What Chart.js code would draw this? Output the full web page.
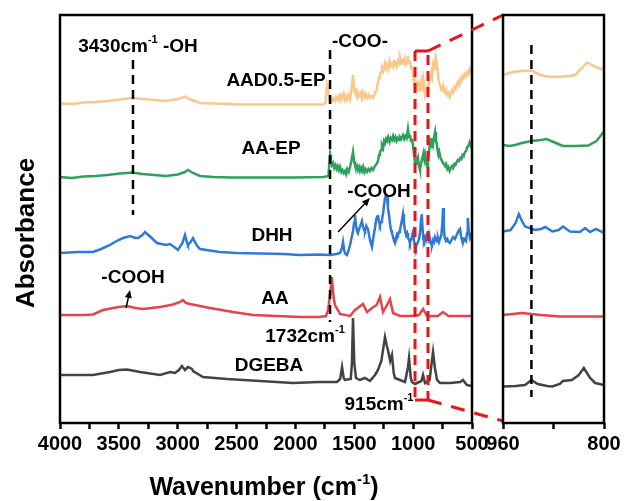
<!DOCTYPE html>
<html>
<head>
<meta charset="utf-8">
<script src="https://cdn.jsdelivr.net/npm/chart.js@4.4.0/dist/chart.umd.min.js"></script>
<style>
html, body { margin: 0; padding: 0; background: #fff; }
#wrap { position: relative; width: 631px; height: 501px; }
canvas { position: absolute; left: 0; top: 0; }
</style>
</head>
<body>
<div id="wrap">
  <canvas id="main" width="631" height="501"></canvas>
  <canvas id="zoom" width="631" height="501"></canvas>
</div>
<script>
// spectra, [wavenumber, absorbance (offset, arbitrary units)]
var aadMain = [[4000,319.5],[3900,319],[3800,320.5],[3700,321],[3600,322],[3490,323.5],[3388,325],[3300,324],[3200,323],[3100,322],[3000,324],[2938,326.5],[2900,324],[2811,320],[2700,319.5],[2556,319],[2500,318.5],[2000,318.5],[1766,318.5],[1745,320],[1732,338],[1723,334],[1706,321],[1698,324],[1690,322],[1680,325],[1664,322],[1655,326],[1640,323],[1630,327],[1621,323],[1610,328],[1600,325],[1590,329],[1579,323],[1570,327],[1560,324],[1548,328],[1536,324],[1525,332],[1511,348],[1502,335],[1494,330],[1486,328],[1478,331],[1470,326],[1460,329],[1452,327],[1443,330],[1435,325],[1425,330],[1415,326],[1405,329],[1392,325],[1380,328],[1370,325],[1355,327],[1341,325],[1325,330],[1310,333],[1299,341],[1290,345],[1282,349],[1272,351],[1265,355],[1255,352],[1247,357],[1239,360],[1230,355],[1222,358],[1212,354],[1200,362],[1190,357],[1180,359],[1168,356],[1160,362],[1150,361],[1140,357],[1130,362],[1120,359],[1112,366],[1100,361],[1086,363],[1078,358],[1069,364],[1060,359],[1052,362],[1044,367],[1035,360],[1027,362],[1018,355],[1010,357],[1001,348],[992,340],[984,333],[976,338],[970,335],[962,340],[955,336],[948,338],[942,331],[936,336],[930,342],[922,338],[916,344],[908,336],[899,328],[890,333],[882,336],[875,331],[868,338],[860,342],[852,346],[845,351],[838,347],[830,358],[822,354],[815,362],[808,366],[800,360],[792,352],[785,344],[778,340],[770,337],[762,333],[755,338],[746,332],[738,335],[729,331],[720,333],[710,328],[700,330],[690,326],[680,329],[670,333],[660,331],[650,336],[640,334],[630,339],[620,341],[610,338],[600,344],[590,342],[580,347],[570,345],[560,349],[550,347],[540,351],[530,349],[520,354],[510,351],[500,348]];
var aaepMain = [[4000,246],[3900,245],[3800,246.5],[3700,247],[3600,248],[3490,249.5],[3388,250.5],[3300,249],[3200,248],[3100,247],[3000,248.5],[2940,251],[2913,253],[2870,250],[2811,247],[2700,246],[2556,245.5],[2000,245.5],[1760,246],[1720,247],[1706,268],[1698,262],[1690,258],[1681,260],[1670,255],[1660,258],[1650,254],[1640,257],[1630,253],[1621,256],[1610,251],[1600,253],[1590,250],[1579,252],[1570,249],[1560,254],[1548,251],[1536,256],[1525,262],[1511,271],[1502,262],[1494,258],[1486,255],[1478,257],[1470,253],[1460,256],[1452,252],[1443,255],[1435,252],[1425,256],[1415,251],[1405,254],[1392,251],[1380,254],[1367,252],[1355,255],[1341,253],[1325,257],[1310,259],[1299,262],[1290,268],[1282,271],[1272,273],[1265,278],[1255,275],[1247,282],[1239,280],[1230,284],[1222,282],[1212,286],[1200,281],[1190,285],[1180,283],[1170,287],[1160,283],[1150,286],[1140,282],[1130,285],[1120,283],[1112,286],[1100,284],[1086,288],[1075,284],[1065,287],[1055,285],[1044,294],[1035,286],[1027,288],[1018,282],[1010,284],[1001,278],[992,268],[984,260],[976,264],[968,261],[959,265],[950,257],[942,253],[935,258],[928,262],[920,266],[912,270],[905,264],[899,268],[890,260],[882,257],[874,262],[866,270],[857,281],[848,276],[840,285],[830,279],[822,286],[814,291],[806,282],[800,280],[792,272],[785,268],[778,271],[770,266],[760,263],[750,261],[740,259],[729,257],[720,259],[710,254],[700,256],[690,252],[680,255],[670,257],[660,255],[650,259],[640,258],[630,261],[620,263],[610,262],[600,265],[590,264],[580,268],[570,267],[560,271],[550,272],[540,276],[530,277],[520,281],[510,278],[500,274]];
var dhhMain = [[4000,170],[3850,171],[3720,171],[3650,174],[3575,178],[3520,182],[3465,185],[3405,187],[3360,185],[3337,185],[3300,188],[3278,191],[3230,186],[3176,180],[3100,178],[3066,179],[3030,176],[2998,173],[2960,180],[2938,188],[2920,180],[2913,178],[2890,181],[2870,185],[2840,178],[2811,174],[2700,172],[2641,171],[2500,170],[2301,169.5],[2100,169],[1961,168],[1800,168.5],[1706,168],[1650,169],[1621,170],[1605,175],[1596,181],[1585,172],[1575,169],[1562,168],[1550,172],[1536,178],[1525,184],[1511,192],[1502,200],[1494,208],[1486,198],[1477,192],[1469,190],[1460,194],[1452,196],[1443,199],[1435,202],[1425,196],[1417,193],[1409,192],[1398,197],[1390,195],[1384,194],[1370,185],[1360,180],[1350,176],[1340,184],[1332,190],[1324,195],[1315,203],[1307,206],[1299,208],[1290,201],[1282,198],[1273,201],[1265,203],[1255,210],[1247,218],[1239,225],[1230,228],[1222,227],[1214,215],[1205,208],[1195,198],[1188,193],[1180,190],[1170,186],[1162,182],[1154,180],[1145,185],[1137,189],[1129,188],[1120,191],[1112,193],[1100,200],[1092,205],[1086,209],[1078,200],[1069,192],[1060,188],[1052,190],[1044,185],[1035,183],[1027,180],[1018,184],[1010,187],[1001,191],[992,182],[984,178],[976,175],[968,179],[959,181],[950,184],[940,192],[932,205],[927,209],[920,195],[914,184],[908,182],[898,186],[890,183],[882,187],[874,185],[865,181],[857,184],[848,179],[840,178],[830,183],[822,181],[814,186],[806,184],[797,182],[789,185],[780,181],[772,181],[760,188],[752,200],[746,215],[740,198],[733,186],[721,182],[710,184],[700,181],[687,180],[675,183],[660,186],[645,184],[630,188],[615,192],[602,194],[592,186],[585,183],[577,180],[565,184],[551,182],[542,190],[538,198],[534,205],[528,192],[517,185],[508,188],[500,190]];
var aaMain = [[4000,108],[3800,108],[3720,108.5],[3635,113],[3500,116],[3431,117],[3360,115],[3295,114],[3150,116],[3040,118.5],[2980,121],[2955,123],[2930,120],[2896,119],[2726,115],[2530,111],[2360,108],[2157,107],[1961,106],[1800,106],[1740,107],[1723,113],[1706,128],[1691,146],[1675,125],[1664,118],[1621,109],[1536,107],[1494,113],[1460,116],[1426,119],[1392,111],[1350,115],[1310,118],[1282,126],[1256,111],[1222,118],[1197,124],[1171,110],[1112,107],[1027,107],[950,108],[916,114],[882,107],[790,107],[746,111],[700,107],[600,107],[500,107]];
var dgebaMain = [[4000,48],[3720,48],[3575,51],[3500,53],[3431,53.5],[3320,51],[3150,48],[3066,51],[3023,50],[2990,53],[2964,57],[2938,53],[2913,56],[2879,54],[2870,52],[2785,46],[2581,44],[2301,42],[2021,40],[1800,41],[1647,41],[1620,44],[1604,56],[1590,45],[1579,43],[1530,44],[1520,60],[1511,105],[1500,60],[1486,45],[1452,43],[1409,45],[1367,42],[1324,48],[1299,53],[1270,62],[1239,86],[1225,78],[1214,73],[1195,62],[1180,68],[1165,50],[1154,45],[1112,43],[1069,41],[1045,55],[1035,65],[1020,45],[1010,41],[984,39],[930,42],[916,48],[899,40],[860,43],[845,58],[831,71],[815,55],[797,43],[772,40],[687,40],[600,41],[577,43],[543,38],[500,37]];

// zoomed 960-800 region
var aadZoom = [[960,348],[950,350],[941,351.5],[930,352],[915,352.5],[900,348],[889,346.5],[880,346],[867,346.5],[855,347],[846,348],[835,355],[827,360.5],[814,356.5],[800,353]];
var aaepZoom = [[960,278],[950,277],[941,278],[930,280],[915,282],[900,283],[891,284],[880,281],[865,277],[845,277],[825,277.5],[812,282],[800,291.5]];
var dhhZoom = [[960,191.5],[948,193],[940,200],[935,209],[930,202],[925,196.5],[909,193],[900,194],[893,196],[882,191.5],[872,193],[865,196.5],[854,191.5],[838,191],[830,195],[822,191],[813,194],[800,190]];
var aaZoom = [[960,108],[945,109],[930,110],[915,109],[900,108],[870,106.5],[800,106.5]];
var dgebaZoom = [[960,36.5],[940,37],[925,38],[915,43],[905,39],[890,37],[882,36.5],[870,39],[865,42],[851,43],[840,48],[832,55],[822,45],[814,40],[800,38]];

var seriesNames = ['AAD0.5-EP', 'AA-EP', 'DHH', 'AA', 'DGEBA'];
var colors = ['#F9C88D', '#2EA15C', '#2F7AD6', '#E5444B', '#434343'];

var FONT = '"Liberation Sans", Arial, sans-serif';

function toXY(arr) {
    return arr.map(function (p) { return { x: p[0], y: p[1] }; });
}

function makeSets(list) {
    return list.map(function (arr, i) {
        return {
            label: seriesNames[i],
            data: toXY(arr),
            borderColor: colors[i],
            borderWidth: 2.5,
            pointRadius: 0,
            tension: 0,
            fill: false
        };
    });
}

// text with superscript pieces: parts = [[text, isSup], ...]
function richText(ctx, parts, cx, y, size) {
    var supSize = Math.round(size * 0.6);
    var w = 0;
    parts.forEach(function (p) {
        ctx.font = 'bold ' + (p[1] ? supSize : size) + 'px ' + FONT;
        w += ctx.measureText(p[0]).width;
    });
    var x = cx - w / 2;
    ctx.textAlign = 'left';
    ctx.textBaseline = 'alphabetic';
    ctx.fillStyle = '#000';
    parts.forEach(function (p) {
        ctx.font = 'bold ' + (p[1] ? supSize : size) + 'px ' + FONT;
        ctx.fillText(p[0], x, p[1] ? y - size * 0.45 : y);
        x += ctx.measureText(p[0]).width;
    });
}

function dashLine(ctx, x1, y1, x2, y2, color, width, dash) {
    ctx.save();
    ctx.strokeStyle = color;
    ctx.lineWidth = width;
    ctx.setLineDash(dash);
    ctx.beginPath();
    ctx.moveTo(x1, y1);
    ctx.lineTo(x2, y2);
    ctx.stroke();
    ctx.restore();
}

function arrow(ctx, x1, y1, x2, y2) {
    var ang = Math.atan2(y2 - y1, x2 - x1);
    ctx.save();
    ctx.strokeStyle = '#000';
    ctx.fillStyle = '#000';
    ctx.lineWidth = 1.5;
    ctx.beginPath();
    ctx.moveTo(x1, y1);
    ctx.lineTo(x2 - 5 * Math.cos(ang), y2 - 5 * Math.sin(ang));
    ctx.stroke();
    ctx.beginPath();
    ctx.moveTo(x2, y2);
    ctx.lineTo(x2 - 8 * Math.cos(ang) + 3.5 * Math.sin(ang), y2 - 8 * Math.sin(ang) - 3.5 * Math.cos(ang));
    ctx.lineTo(x2 - 8 * Math.cos(ang) - 3.5 * Math.sin(ang), y2 - 8 * Math.sin(ang) + 3.5 * Math.cos(ang));
    ctx.closePath();
    ctx.fill();
    ctx.restore();
}

function xAxis(min, max, step, labelled) {
    return {
        type: 'linear',
        min: min,
        max: max,
        reverse: true,
        afterFit: function (s) { s.height = 40; },
        border: { display: false },
        grid: { drawOnChartArea: false, drawTicks: true, tickLength: 6, tickWidth: 2.5, tickColor: '#000' },
        ticks: {
            stepSize: step,
            autoSkip: false,
            maxRotation: 0,
            padding: 3,
            color: '#000',
            font: { family: FONT, size: 20, weight: 'bold' },
            callback: function (v) { return labelled(v) ? String(v) : ''; }
        }
    };
}

var yAxis = { min: 0, max: 408, display: false };

var boxPlugin = {
    id: 'box',
    afterDraw: function (chart) {
        var a = chart.chartArea, ctx = chart.ctx;
        ctx.save();
        ctx.strokeStyle = '#000';
        ctx.lineWidth = 2.5;
        ctx.strokeRect(a.left, a.top, a.right - a.left, a.bottom - a.top);
        ctx.restore();
    }
};

var zoomChart = new Chart(document.getElementById('zoom'), {
    type: 'line',
    data: { datasets: makeSets([aadZoom, aaepZoom, dhhZoom, aaZoom, dgebaZoom]) },
    options: {
        responsive: false,
        animation: false,
        layout: { padding: { left: 503, right: 27, top: 15, bottom: 38 } },
        plugins: { legend: { display: false }, tooltip: { enabled: false } },
        scales: {
            x: xAxis(800, 960, 80, function (v) { return v !== 880; }),
            y: yAxis
        }
    },
    plugins: [boxPlugin, {
        id: 'zoomMarks',
        afterDraw: function (chart) {
            var x = chart.scales.x, y = chart.scales.y, ctx = chart.ctx;
            dashLine(ctx, x.getPixelForValue(915), y.getPixelForValue(378), x.getPixelForValue(915), y.getPixelForValue(26), '#000', 2.5, [9, 6]);
        }
    }]
});

var annotations = {
    id: 'annotations',
    afterDraw: function (chart) {
        var x = chart.scales.x, y = chart.scales.y, ctx = chart.ctx;
        var z = zoomChart.chartArea;
        function px(v) { return x.getPixelForValue(v); }
        function py(v) { return y.getPixelForValue(v); }

        // peak guide lines
        dashLine(ctx, px(3380), py(363), px(3380), py(208), '#000', 2.5, [9, 6]);
        dashLine(ctx, px(1706), py(373), px(1706), py(101), '#000', 2.5, [9, 6]);

        // red zoom window
        var red = '#E8141B';
        var l = px(984), r = px(874), t = py(372), b = py(23);
        dashLine(ctx, l, t, l, b, red, 3, [10, 6]);
        dashLine(ctx, r, t + 4, r, b + 4, red, 3, [10, 6]);
        dashLine(ctx, l, t, r, t, red, 3, []);
        dashLine(ctx, l, b, r, b, red, 3, []);
        dashLine(ctx, r, t, z.left, z.top, red, 3, [14, 10]);
        dashLine(ctx, r, b, z.left, z.bottom - 2, red, 3, [14, 10]);

        // labels
        richText(ctx, [['3430cm', false], ['-1', true], [' -OH', false]], 138, 52, 19);
        richText(ctx, [['AAD0.5-EP', false]], 276, 86, 19);
        richText(ctx, [['-COO-', false]], 360, 47, 19);
        richText(ctx, [['AA-EP', false]], 271, 154, 19);
        richText(ctx, [['-COOH', false]], 379, 197, 19);
        richText(ctx, [['DHH', false]], 272, 241, 19);
        richText(ctx, [['-COOH', false]], 133, 283, 19);
        richText(ctx, [['AA', false]], 275, 304, 19);
        richText(ctx, [['1732cm', false], ['-1', true]], 305, 342, 19);
        richText(ctx, [['DGEBA', false]], 269, 371, 19);
        richText(ctx, [['915cm', false], ['-1', true]], 379, 410, 19);

        arrow(ctx, px(1638), py(191), px(1367), py(225));
        arrow(ctx, px(3439), py(115), px(3405), py(133));

        // axis titles
        richText(ctx, [['Wavenumber (cm', false], ['-1', true], [')', false]], 264, 495, 25);
        ctx.save();
        ctx.translate(34, 233);
        ctx.rotate(-Math.PI / 2);
        richText(ctx, [['Absorbance', false]], 0, 0, 26);
        ctx.restore();
    }
};

new Chart(document.getElementById('main'), {
    type: 'line',
    data: { datasets: makeSets([aadMain, aaepMain, dhhMain, aaMain, dgebaMain]) },
    options: {
        responsive: false,
        animation: false,
        layout: { padding: { left: 60, right: 159, top: 15, bottom: 38 } },
        plugins: { legend: { display: false }, tooltip: { enabled: false } },
        scales: {
            x: xAxis(500, 4000, 250, function (v) { return v % 500 === 0; }),
            y: yAxis
        }
    },
    plugins: [boxPlugin, annotations]
});
</script>
</body>
</html>
